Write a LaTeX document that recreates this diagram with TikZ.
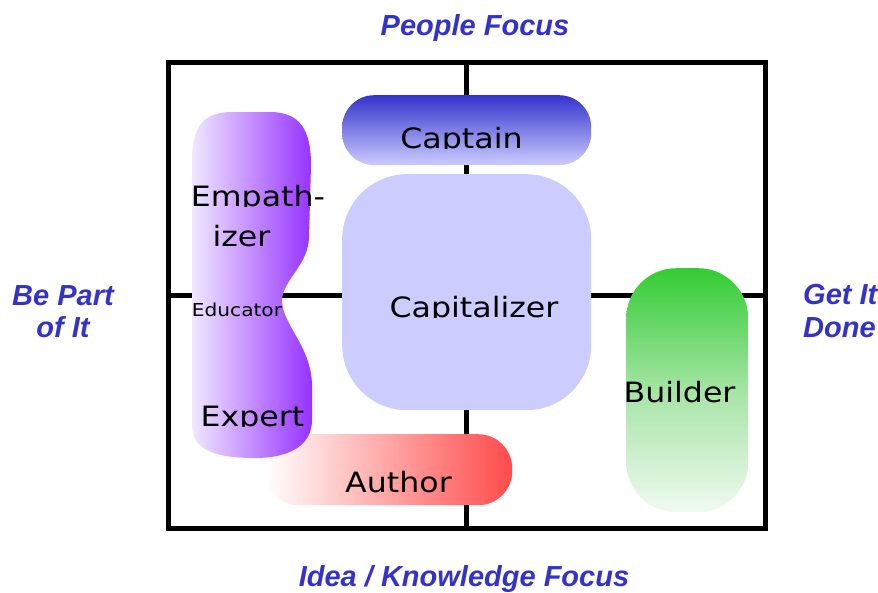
\documentclass[tikz,border=0pt]{standalone}
\usepackage{fontspec}
\setmainfont{DejaVu Sans}
\newfontfamily\lblfont[FakeStretch=1.13]{DejaVu Sans}
\newfontfamily\ttlfont{Liberation Sans}
\definecolor{titleblue}{RGB}{51,51,204}
\definecolor{captdark}{RGB}{51,51,204}
\definecolor{captlight}{RGB}{204,204,255}
\definecolor{capzfill}{RGB}{204,204,255}
\definecolor{buildtop}{RGB}{51,204,51}
\definecolor{buildmid}{RGB}{165,228,165}
\definecolor{buildbot}{RGB}{240,250,240}
\definecolor{authred}{RGB}{255,75,75}
\definecolor{empleft}{RGB}{240,232,255}
\definecolor{empright}{RGB}{150,50,255}
\newcommand{\cliplbl}[5]{\begin{scope}\clip (#2-150,#3-45) rectangle (#2+150,#3+0.8);\node[lbl,#4] (#1) at (#2,#3) {#5};\end{scope}}
\begin{document}
\begin{tikzpicture}[x=1pt,y=-1pt,
  grid/.style={line width=5pt,black},
  lbl/.style={anchor=base,inner sep=0pt,font=\lblfont\fontsize{28}{30}\selectfont},
  ttl/.style={inner sep=0pt,text=titleblue,font=\ttlfont\bfseries\itshape\fontsize{29}{32}\selectfont},
  blob/.style={inner sep=0pt,anchor=north west,draw=none}]
\useasboundingbox (0,0) rectangle (878,592);
% titles
\node[ttl,anchor=base] (pf) at (475,35) {People Focus};
\node[ttl,anchor=base] (ik) at (464,586) {Idea / Knowledge Focus};
\node[ttl,anchor=base] (bp1) at (63,305) {Be Part};
\node[ttl,anchor=base] (bp2) at (63,337) {of It};
\node[ttl,anchor=base west] (gd1) at (803,304) {Get It};
\node[ttl,anchor=base west] (gd2) at (803,337) {Done};
% grid
\coordinate (tl) at (168,62);
\coordinate (br) at (765.5,528);
\coordinate (tm) at (466,62);
\coordinate (bm) at (466,528);
\coordinate (lm) at (168,295);
\coordinate (rm) at (765.5,295);
\draw[grid] (tl) rectangle (br);
\draw[grid] (tm) -- (bm);
\draw[grid] (lm) -- (rm);
% shapes
\node[blob,minimum width=249pt,minimum height=70pt,rounded corners=32pt,
  top color=captdark,bottom color=captlight] (captain) at (342,95) {};
\node[blob,minimum width=249pt,minimum height=236pt,rounded corners=65pt,
  fill=capzfill] (capitalizer) at (342,174) {};
\node[blob,minimum width=122pt,minimum height=244pt,rounded corners=50pt,
  top color=buildtop,bottom color=buildbot,middle color=buildmid] (builder) at (626,268) {};
\node[blob,minimum width=247pt,minimum height=71pt,rounded corners=34pt,
  left color=white,right color=authred] (author) at (265,434) {};
\path[left color=empleft,right color=empright]
  (192,160) .. controls (192,125) and (205,112) .. (232,112)
  -- (270,112) .. controls (300,112) and (311,130) .. (311,165)
  -- (309,238) .. controls (308,265) and (283,280) .. (282,300)
  .. controls (282,325) and (311,345) .. (312,385)
  -- (312,420) .. controls (312,445) and (290,458) .. (255,458)
  .. controls (215,458) and (192,450) .. (192,425) -- cycle;
% labels
\cliplbl{empath}{258}{206}{}{Empath-}
\cliplbl{izer}{241.5}{246}{}{izer}
\node[lbl,font=\lblfont\fontsize{17.8}{20}\selectfont] (edu) at (237,316) {Educator};
\cliplbl{expert}{252.5}{426}{}{Expert}
\cliplbl{captlbl}{461.5}{148}{}{Captain}
\cliplbl{capzlbl}{474}{317}{}{Capitalizer}
\cliplbl{buildlbl}{679.5}{402}{}{Builder}
\cliplbl{authlbl}{398.5}{492}{}{Author}
\end{tikzpicture}
\end{document}
